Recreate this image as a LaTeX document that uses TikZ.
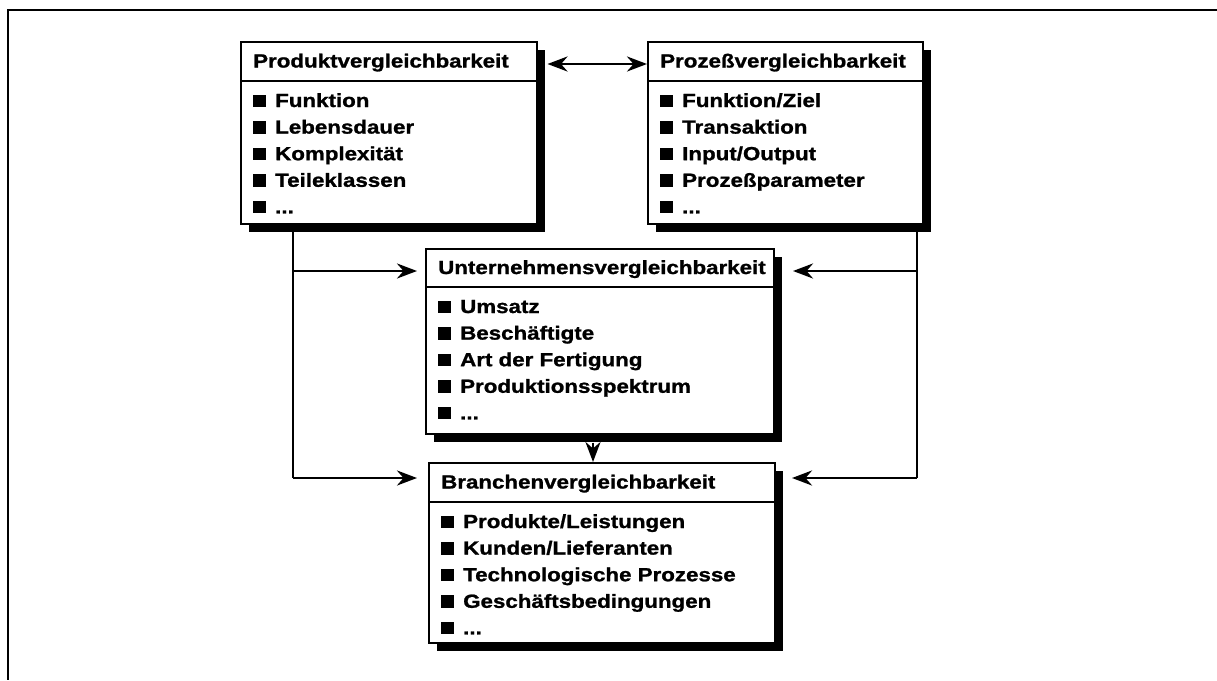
\documentclass[tikz,border=0pt]{standalone}
\usepackage{fontspec}
\setmainfont[FakeStretch=1.175,FakeBold=1.2]{Liberation Sans}
\usetikzlibrary{arrows.meta,shadows,calc}

\tikzset{
  card/.style={draw, line width=1.5pt, fill=white, inner sep=0pt, anchor=north west,
    drop shadow={fill=black, opacity=1, shadow xshift=8pt, shadow yshift=-8pt}},
  rule/.style={line width=1.5pt},
  caption/.style={anchor=base west, inner sep=0pt, font=\fontsize{19}{22}\selectfont\bfseries},
  link/.style={line width=2.8pt},
  arrow/.style={link, -{Stealth[length=20pt,width=15pt,inset=6.5pt]}},
  twoway/.style={link, {Stealth[length=20pt,width=15pt,inset=6.5pt]}-{Stealth[length=20pt,width=15pt,inset=6.5pt]}},
  frame/.style={line width=2.4pt}
}

% square bullet in front of each list entry
\newcommand\sqbullet{\rule{12.5pt}{12.5pt}\hspace{9.5pt}}
% trailing "more entries" mark (kept out of the foreach list syntax)
\newcommand\moreentries{...}

% #1 name, #2 left, #3 top, #4 right, #5 divider, #6 bottom, #7 title, #8 entries
\newcommand\makecard[8]{%
  \node[card, minimum width={#4-#2}, minimum height={#6-#3}] (#1) at (#2,#3) {};
  \draw[rule] (#2,#5) -- (#4,#5);
  \node[caption] (#1h) at ({#2+13},{(#3+#5)/2+6.5}) {#7};
  \foreach \t [count=\i] in {#8} {
    \node[caption] (#1\i) at ({#2+13},{#5+26+26.6*(\i-1)}) {\sqbullet\t};
  }
}

\begin{document}
\begin{tikzpicture}[x=1pt,y=-1pt]
  \useasboundingbox (0,0) rectangle (1217,680);
  \draw[frame] (1217,10) -- (8,10) -- (8,680);

  \makecard{p}{240}{41}{536}{81}{223}{Produktvergleichbarkeit}
    {Funktion,Lebensdauer,Komplexität,Teileklassen,\moreentries}
  \makecard{q}{647}{41}{922}{81}{223}{Prozeßvergleichbarkeit}
    {Funktion/Ziel,Transaktion,Input/Output,Prozeßparameter,\moreentries}
  \makecard{u}{425}{248}{773}{287}{433}{Unternehmensvergleichbarkeit}
    {Umsatz,Beschäftigte,Art der Fertigung,Produktionsspektrum,\moreentries}
  \makecard{b}{428}{462}{774}{502}{642}{Branchenvergleichbarkeit}
    {Produkte/Leistungen,Kunden/Lieferanten,Technologische Prozesse,Geschäftsbedingungen,\moreentries}

  % connector end points
  \coordinate (lx) at (293,478);
  \coordinate (rx) at (917,478);
  \coordinate (ul) at (417,271);
  \coordinate (ur) at (793,271);
  \coordinate (bl) at (417,478);
  \coordinate (br) at (792,478);
  \coordinate (dx) at (593,0);

  \draw[twoway] ($(p.north east)+(10,23)$) -- ($(q.north west)+(0,23)$);

  \draw[link] (p.south -| lx) -- (lx);
  \draw[arrow] (p.south -| lx) |- (ul);
  \draw[arrow] (lx) -- (bl);

  \draw[link] (q.south -| rx) -- (rx);
  \draw[arrow] (q.south -| rx) |- (ur);
  \draw[arrow] (rx) -- (br);

  \draw[arrow] ($(u.south -| dx)+(0,8)$) -- (b.north -| dx);
\end{tikzpicture}
\end{document}
